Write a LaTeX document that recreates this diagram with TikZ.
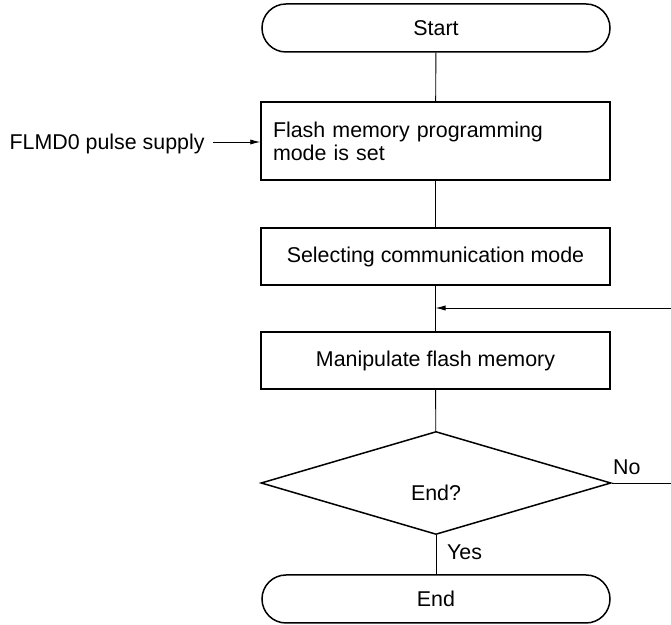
\documentclass[tikz,border=0pt]{standalone}
\usepackage{fontspec}
\setmainfont{Liberation Sans}
\usetikzlibrary{shapes.geometric,arrows.meta}

\tikzset{
  box/.style={draw,line width=0.75pt,minimum width=174.5pt,minimum height=28.5pt,inner sep=0pt},
  term/.style={draw,line width=0.75pt,rounded corners=12pt,minimum width=174pt,minimum height=24pt,inner sep=0pt},
  thin line/.style={line width=0.45pt},
  arr/.style={line width=0.45pt,-{Latex[length=5pt,width=2.6pt]}}
}

\begin{document}
\begin{tikzpicture}[x=0.5pt,y=-0.5pt,font=\fontsize{10.7}{11.6}\selectfont]
    \useasboundingbox (0,0) rectangle (671,625);

    % 定义点变量
    \coordinate (S) at (436,28);
    \coordinate (P) at (435.5,141);
    \coordinate (C) at (435.5,256.5);
    \coordinate (M) at (435.5,360.5);
    \coordinate (Q) at (436,483);
    \coordinate (E) at (436,599);
    \coordinate (loopin) at (671,308);
    \coordinate (noout) at (671,483);

    % 框
    \node[term] (start) at (S) {Start};
    \node[box,minimum height=39pt,text width=162.5pt,inner xsep=6pt,align=left] (prog) at (P) {Flash memory programming\\mode is set};
    \node[box] (sel) at (C) {Selecting communication mode};
    \node[box] (manip) at (M) {Manipulate flash memory};
    \node[draw,diamond,line width=0.75pt,minimum width=175pt,minimum height=51.5pt,inner sep=0pt,text height=18pt,text depth=0pt] (dec) at (Q) {End?};
    \node[term] (end) at (E) {End};
    \node[anchor=east,inner ysep=0pt,inner xsep=4pt,text depth=0pt] (flmd) at (213,142) {FLMD0 pulse supply};

    % 使用变量连线
    \draw[thin line] (start) -- (prog);
    \draw[thin line] (prog) -- (sel);
    \draw[thin line] (sel) -- (manip);
    \draw[thin line] (manip) -- (dec);
    \draw[thin line] (dec) -- node[pos=0.43,right=2pt]{Yes} (end);
    \draw[thin line] (dec.east) -- node[pos=0,anchor=base west,inner sep=0pt,xshift=0.5pt,yshift=4pt]{No} (noout);
    \draw[arr] (flmd.east) -- (prog.west |- flmd.east);
    \draw[arr] (loopin) -- (loopin -| sel.south);

\end{tikzpicture}
\end{document}
